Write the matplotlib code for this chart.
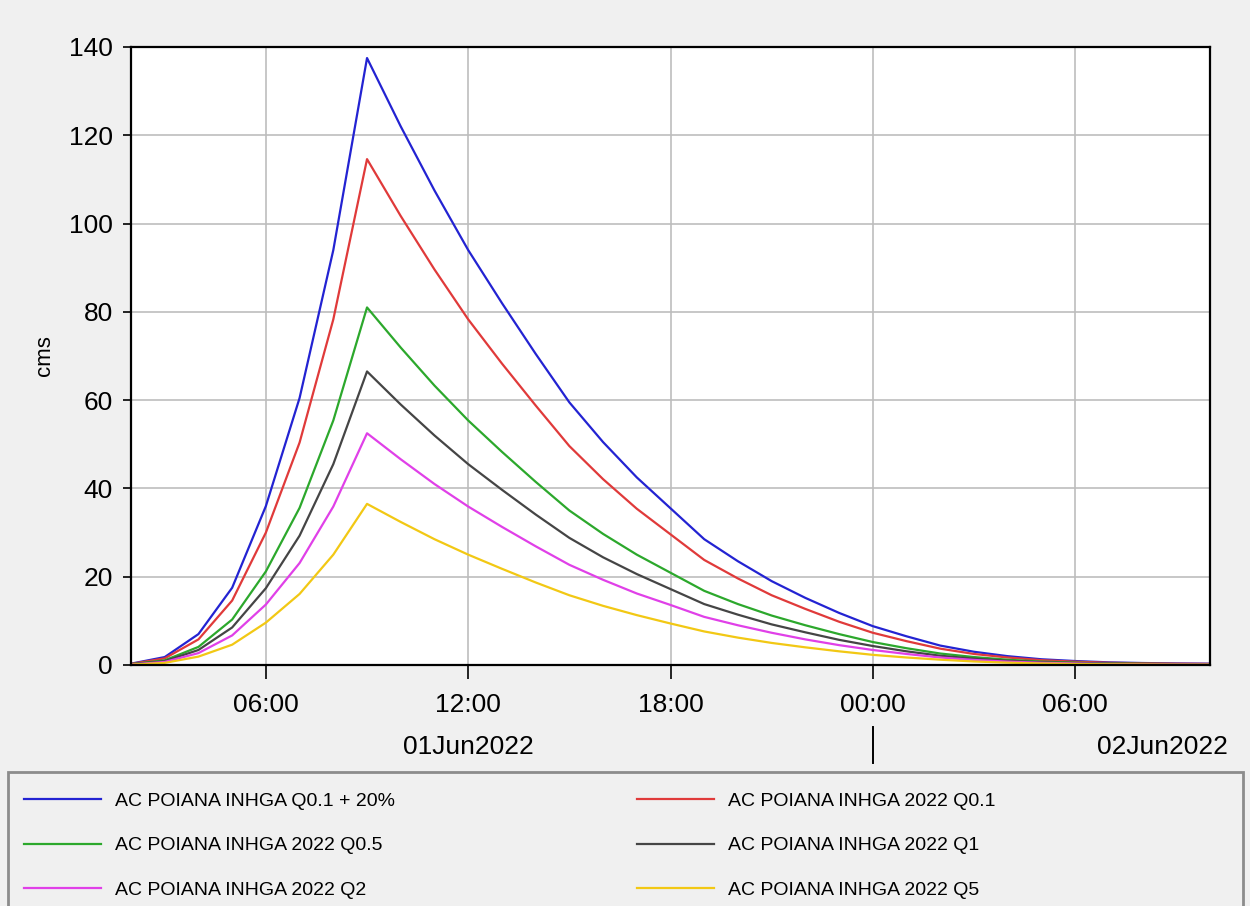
import matplotlib
matplotlib.use("Agg")
import matplotlib.pyplot as plt
import matplotlib.dates as mdates
import matplotlib.transforms as mtransforms
from matplotlib.patches import Rectangle
import pandas as pd
from datetime import datetime

# ---- data (hourly, 01Jun2022 02:00 -> 02Jun2022 10:00) ----
times = pd.date_range("2022-06-01 02:00", "2022-06-02 10:00", freq="h")

q01_plus20 = [0.3, 1.8, 7.0, 17.5, 36.0, 60.5, 94.0, 137.5, 122.0, 107.5, 94.0, 82.0,
              70.5, 59.5, 50.5, 42.5, 35.5, 28.5, 23.5, 19.0, 15.2, 11.8, 8.8, 6.5,
              4.4, 3.0, 2.0, 1.3, 0.9, 0.6, 0.45, 0.35, 0.3]
q01 = [0.25, 1.5, 5.8, 14.6, 30.0, 50.4, 78.3, 114.6, 101.7, 89.6, 78.3, 68.3,
       58.8, 49.6, 42.1, 35.4, 29.6, 23.8, 19.6, 15.8, 12.7, 9.8, 7.3, 5.4,
       3.7, 2.5, 1.7, 1.1, 0.75, 0.5, 0.38, 0.29, 0.25]
q05 = [0.18, 1.06, 4.1, 10.3, 21.2, 35.6, 55.4, 81.0, 71.9, 63.3, 55.4, 48.3,
       41.5, 35.0, 29.7, 25.0, 20.9, 16.8, 13.8, 11.2, 9.0, 7.0, 5.2, 3.8,
       2.6, 1.8, 1.2, 0.77, 0.53, 0.35, 0.27, 0.21, 0.18]
q1 = [0.15, 0.87, 3.4, 8.5, 17.4, 29.3, 45.5, 66.5, 59.0, 52.0, 45.5, 39.7,
      34.1, 28.8, 24.4, 20.6, 17.2, 13.8, 11.4, 9.2, 7.4, 5.7, 4.3, 3.1,
      2.1, 1.45, 0.97, 0.63, 0.44, 0.29, 0.22, 0.17, 0.15]
q2 = [0.11, 0.69, 2.7, 6.7, 13.7, 23.1, 35.9, 52.5, 46.6, 41.0, 35.9, 31.3,
      26.9, 22.7, 19.3, 16.2, 13.6, 10.9, 9.0, 7.3, 5.8, 4.5, 3.4, 2.5,
      1.7, 1.15, 0.76, 0.5, 0.34, 0.23, 0.17, 0.13, 0.11]
q5 = [0.08, 0.48, 1.9, 4.6, 9.6, 16.1, 25.0, 36.5, 32.4, 28.5, 25.0, 21.8,
      18.7, 15.8, 13.4, 11.3, 9.4, 7.6, 6.2, 5.0, 4.0, 3.1, 2.3, 1.7,
      1.2, 0.8, 0.53, 0.35, 0.24, 0.16, 0.12, 0.09, 0.08]

labels = ["AC POIANA INHGA Q0.1 + 20%", "AC POIANA INHGA 2022 Q0.1",
          "AC POIANA INHGA 2022 Q0.5", "AC POIANA INHGA 2022 Q1",
          "AC POIANA INHGA 2022 Q2", "AC POIANA INHGA 2022 Q5"]
series = [q01_plus20, q01, q05, q1, q2, q5]
colors = ["#2323d2", "#e03a3a", "#2ca82c", "#454545", "#e040e8", "#f2c814"]

y_ticks = [0, 20, 40, 60, 80, 100, 120, 140]
day_labels = ["01Jun2022", "02Jun2022"]

plt.rcParams["font.family"] = ["Liberation Sans", "DejaVu Sans"]

W, H = 1250, 906
fig = plt.figure(figsize=(W / 100, H / 100), dpi=100, facecolor="#f0f0f0")
ax = fig.add_axes([131 / W, 1 - 665 / H, (1210 - 131) / W, (665 - 47) / H])
ax.set_facecolor("white")

lines = []
for s, c, lab in zip(series, colors, labels):
    ln, = ax.plot(times, s, color=c, lw=1.6, label=lab)
    lines.append(ln)

ax.set_xlim(datetime(2022, 6, 1, 2), datetime(2022, 6, 2, 10))
ax.set_ylim(0, 140)
ax.set_yticks(y_ticks)
ax.xaxis.set_major_locator(mdates.HourLocator(byhour=[0, 6, 12, 18]))
ax.xaxis.set_major_formatter(mdates.DateFormatter("%H:%M"))
ax.grid(True, color="#bdbdbd", lw=1.2)
ax.set_axisbelow(True)
for sp in ax.spines.values():
    sp.set_linewidth(1.6)
    sp.set_color("black")
ax.tick_params(axis="y", length=6, width=1.2, pad=7, labelsize=19)
ax.tick_params(axis="x", length=10, width=1.2, pad=10, labelsize=19)
ax.set_ylabel("cms", fontsize=16)
ax.yaxis.set_label_coords(-0.0705, 0.5)

# date row under the time ticks
trans = mtransforms.blended_transform_factory(ax.transData, ax.transAxes)
ax.text(mdates.date2num(datetime(2022, 6, 1, 12)), -0.133, day_labels[0],
        transform=trans, ha="center", va="center", fontsize=19)
ax.text(1.017, -0.133, day_labels[1], transform=ax.transAxes,
        ha="right", va="center", fontsize=19)
xd = mdates.date2num(datetime(2022, 6, 2, 0))
ax.plot([xd, xd], [-0.100, -0.159], transform=trans, color="black",
        lw=1.4, clip_on=False)

# legend frame
fig.patches.append(Rectangle((8 / W, -0.01), (1243 - 8) / W, (H - 772) / H + 0.01,
                             transform=fig.transFigure, facecolor="#f0f0f0",
                             edgecolor="#8c8c8c", lw=2, zorder=0))

leg_kw = dict(loc="upper left", frameon=False, fontsize=14, borderpad=0,
              borderaxespad=0, handlelength=3.95, handletextpad=0.75,
              labelspacing=1.4)
fig.legend([lines[0], lines[2], lines[4]], [labels[0], labels[2], labels[4]],
           bbox_to_anchor=(24 / W, 1 - 792 / H), **leg_kw)
fig.legend([lines[1], lines[3], lines[5]], [labels[1], labels[3], labels[5]],
           bbox_to_anchor=(637 / W, 1 - 792 / H), **leg_kw)

fig.savefig("out.png", dpi=100, facecolor=fig.get_facecolor())
